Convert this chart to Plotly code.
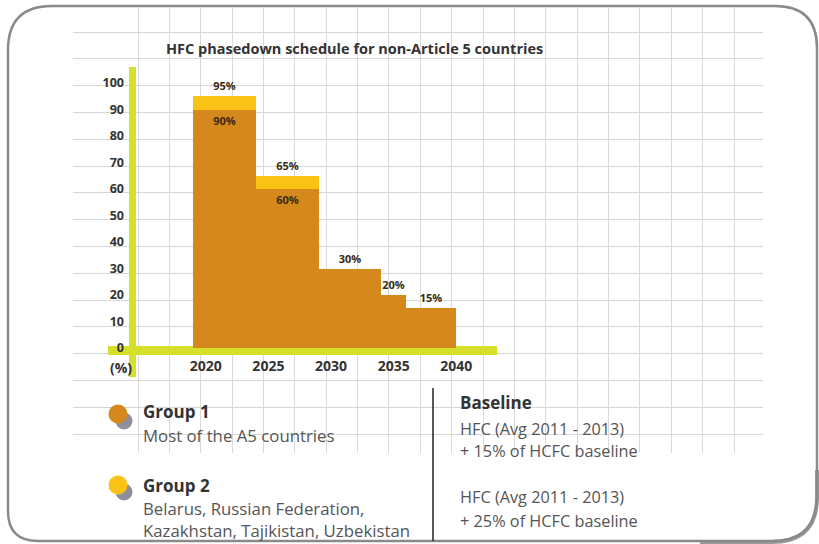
import plotly.graph_objects as go

# ---------------- data ----------------
period_start = [2019, 2024, 2029, 2034, 2036]
period_end = [2024, 2029, 2034, 2036, 2040]
group1_values = [90, 60, 30, 20, 15]
group2_values = [95, 65]
x_tick_years = [2020, 2025, 2030, 2035, 2040]
y_tick_values = [0, 10, 20, 30, 40, 50, 60, 70, 80, 90, 100]

title_text = "HFC phasedown schedule for non-Article 5 countries"
legend_groups = ["Group 1", "Group 2"]
legend_desc = [["Most of the A5 countries"],
               ["Belarus, Russian Federation,", "Kazakhstan, Tajikistan, Uzbekistan"]]
baseline_title = "Baseline"
baseline_desc = [["HFC (Avg 2011 - 2013)", "+ 15% of HCFC baseline"],
                 ["HFC (Avg 2011 - 2013)", "+ 25% of HCFC baseline"]]

# ---------------- styles ----------------
W, H = 819, 544
ORANGE = "#D5881B"
YELLOW = "#FAC214"
LIME = "#D6E02A"
DARK = "#333333"
GREY_TXT = "#555555"
FONT = "Open Sans"


def fx(px):
    return px / W


def fy(py):
    return 1 - py / H


def P(px, py):
    return f"{fx(px):.5f},{fy(py):.5f}"


mid = [(s + e) / 2 for s, e in zip(period_start, period_end)]
wid = [e - s for s, e in zip(period_start, period_end)]

fig = go.Figure()

fig.add_trace(go.Bar(
    x=mid[:len(group2_values)], y=group2_values, width=wid[:len(group2_values)],
    marker=dict(color=YELLOW, line=dict(width=0)),
    text=[f"{v}%" for v in group2_values], textposition="outside",
    textfont=dict(family=FONT, size=11, color="#3a2a12", weight="bold"),
    cliponaxis=False, hoverinfo="skip", name="Group 2", showlegend=False,
))
fig.add_trace(go.Bar(
    x=mid, y=group1_values, width=wid,
    marker=dict(color=ORANGE, line=dict(width=0)),
    text=[f"{v}%" for v in group1_values],
    textposition=["inside", "inside", "outside", "outside", "outside"],
    insidetextanchor="end",
    insidetextfont=dict(family=FONT, size=11, color="#3a2a12", weight="bold"),
    outsidetextfont=dict(family=FONT, size=11, color="#3a2a12", weight="bold"),
    cliponaxis=False, hoverinfo="skip", name="Group 1", showlegend=False,
))
# invisible trace that carries the background grid axes
fig.add_trace(go.Scatter(x=[], y=[], xaxis="x2", yaxis="y2", showlegend=False, hoverinfo="skip"))

# axis mapping (pixel layout)
x_left_px, x_right_px = 73, 763
y_top_px, y_bot_px = 8, 453
px_per_year = 12.53
ref_year, ref_px = 2030.33, 335.17
px_per_unit = 2.65
zero_px = 348


def year_at(px):
    return ref_year + (px - ref_px) / px_per_year


def val_at(py):
    return (zero_px - py) / px_per_unit


xr = [year_at(x_left_px), year_at(x_right_px)]
yr = [val_at(y_bot_px), val_at(y_top_px)]

grid_dx, grid_dy = 31.37, 26.8
first_vline_px, last_hline_px = 138, 434
n_vlines = 20
x2_t0 = (first_vline_px - x_left_px) / grid_dx
grid_x_vals = [x2_t0 + k for k in range(n_vlines)]

fig.update_layout(
    width=W, height=H,
    margin=dict(l=0, r=0, t=0, b=0),
    paper_bgcolor="white", plot_bgcolor="rgba(0,0,0,0)",
    barmode="overlay", bargap=0,
    font=dict(family=FONT, color=DARK),
    xaxis=dict(domain=[fx(x_left_px), fx(x_right_px)], range=xr, anchor="free",
               position=fy(356), showgrid=False, zeroline=False, showline=False,
               tickmode="array", tickvals=x_tick_years, ticktext=[str(v) for v in x_tick_years],
               ticks="", tickfont=dict(family=FONT, size=14, color=DARK, weight="bold"),
               fixedrange=True),
    yaxis=dict(domain=[fy(y_bot_px), fy(y_top_px)], range=yr, anchor="free",
               position=fx(124), showgrid=False, zeroline=False, showline=False,
               tickmode="array", tickvals=y_tick_values, ticktext=[str(v) for v in y_tick_values],
               ticks="", tickfont=dict(family=FONT, size=12.5, color=DARK, weight="bold"),
               fixedrange=True),
    xaxis2=dict(overlaying="x", range=[0, (x_right_px - x_left_px) / grid_dx],
                tickmode="array", tickvals=grid_x_vals,
                showgrid=True, gridcolor="#dadada", gridwidth=1,
                showticklabels=False, zeroline=False, showline=False, ticks=""),
    yaxis2=dict(overlaying="y", range=[0, (y_bot_px - y_top_px) / grid_dy],
                tick0=(y_bot_px - last_hline_px) / grid_dy, dtick=1,
                showgrid=True, gridcolor="#d6d6d6", gridwidth=1,
                showticklabels=False, zeroline=False, showline=False, ticks=""),
)

shapes = []
# frame shadow + frame
frame = (f"M {P(8,50)} Q {P(8,6)} {P(52,6)} L {P(775,6)} Q {P(817,6)} {P(817,48)} "
         f"L {P(817,497)} Q {P(817,541)} {P(772,541)} L {P(38,541)} Q {P(8,541)} {P(8,511)} Z")
frame_sh = (f"M {P(817,470)} L {P(817,497)} Q {P(817,542)} {P(772,542)} L {P(700,542)}")
shapes.append(dict(type="path", xref="paper", yref="paper", path=frame_sh,
                   line=dict(color="#9a9a9a", width=4), layer="below"))
shapes.append(dict(type="path", xref="paper", yref="paper", path=frame,
                   line=dict(color="#8a8a8a", width=2.5), fillcolor="rgba(0,0,0,0)", layer="above"))
# lime axis bars (between grid and traces, under tick labels)
shapes.append(dict(type="line", xref="x", yref="y", x0=year_at(108), x1=year_at(497),
                   y0=val_at(350.5), y1=val_at(350.5), line=dict(color=LIME, width=9),
                   layer="between"))
shapes.append(dict(type="line", xref="x", yref="y", x0=year_at(132.5), x1=year_at(132.5),
                   y0=val_at(67), y1=val_at(377), line=dict(color=LIME, width=7),
                   layer="between"))
# divider
shapes.append(dict(type="line", xref="paper", yref="paper", x0=fx(433), x1=fx(433),
                   y0=fy(388), y1=fy(541), line=dict(color="#222222", width=1.5)))
# legend dots
for cy, col in [(414, ORANGE), (485, YELLOW)]:
    r = 9.5
    shapes.append(dict(type="circle", xref="paper", yref="paper",
                       x0=fx(124 - 8.5), x1=fx(124 + 8.5), y0=fy(cy + 7 - 8.5), y1=fy(cy + 7 + 8.5),
                       fillcolor="#8e8f9c", line=dict(width=0)))
    shapes.append(dict(type="circle", xref="paper", yref="paper",
                       x0=fx(118 - r), x1=fx(118 + r), y0=fy(cy - r), y1=fy(cy + r),
                       fillcolor=col, line=dict(width=0)))
fig.update_layout(shapes=shapes)

ann = []


def text(x, y, s, size, color, bold=False, anchor="left"):
    ann.append(dict(x=fx(x), y=fy(y), xref="paper", yref="paper", text=s, showarrow=False,
                    xanchor=anchor, yanchor="middle",
                    font=dict(family=FONT, size=size, color=color, weight="bold" if bold else "normal")))


text(164, 48, title_text, 14.5, DARK, bold=True)
text(121, 367, "(%)", 14, DARK, bold=True, anchor="center")

text(141, 411, legend_groups[0], 17, DARK, bold=True)
text(141, 435, legend_desc[0][0], 16.8, GREY_TXT)
text(141, 485, legend_groups[1], 17, DARK, bold=True)
text(141, 508, legend_desc[1][0], 16.8, GREY_TXT)
text(141, 530, legend_desc[1][1], 16.8, GREY_TXT)

text(458, 402, baseline_title, 17, DARK, bold=True)
text(458, 429, baseline_desc[0][0], 16.3, GREY_TXT)
text(458, 451, baseline_desc[0][1], 16.3, GREY_TXT)
text(458, 497, baseline_desc[1][0], 16.3, GREY_TXT)
text(458, 521, baseline_desc[1][1], 16.3, GREY_TXT)

fig.update_layout(annotations=ann)

fig.write_html("out.html", config={"displayModeBar": False},
               post_script="document.body.style.margin='0';document.body.style.overflow='hidden';")
